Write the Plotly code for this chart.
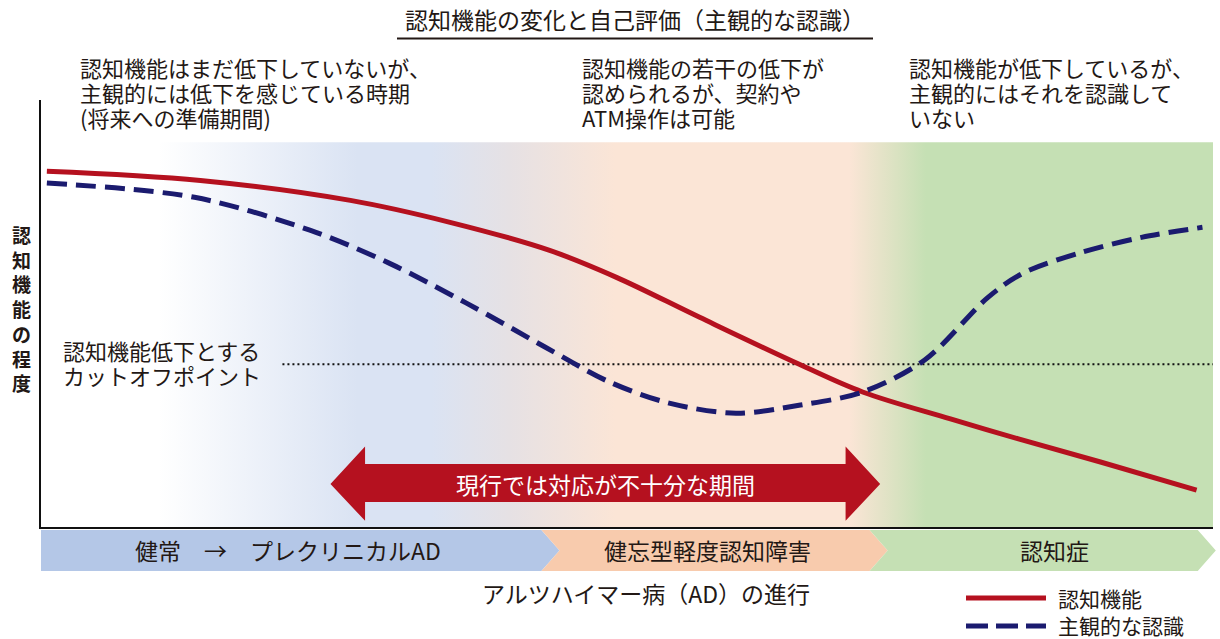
import plotly.graph_objects as go

# ---------------- data ----------------
# x: progression of AD (0-100), y: level of cognitive function (0-100)
cog_x = [0.5, 13.6, 26.4, 34.9, 43.4, 49.1, 56.2, 64.7, 70.1, 77.6, 83.4, 90.4, 98.6]
cog_y = [92.5, 90.1, 84.9, 79.2, 71.9, 64.9, 54.5, 42.3, 35.1, 28.1, 22.9, 16.9, 9.6]

subj_x = [0.5, 13.1, 23.0, 29.7, 36.3, 43.0, 48.5, 53.6, 59.3, 64.8, 70.1, 75.4, 80.8, 83.8, 88.8, 93.9, 99.1]
subj_y = [89.4, 85.7, 77.1, 68.6, 58.2, 46.8, 37.7, 32.2, 29.6, 31.7, 35.1, 43.4, 59.7, 66.0, 71.4, 75.3, 77.9]

cutoff_y = 42.3
cutoff_x = [20.6, 100]

stage_names = ["健常　→　プレクリニカルAD", "健忘型軽度認知障害", "認知症"]
stage_bounds = [0, 42.7, 70.7, 98.7]
stage_label_x = [21.1, 56.9, 86.5]
stage_colors = ["#b4c7e7", "#f8cbad", "#c5e0b4"]

arrow_x = [24.7, 71.6]          # tips of the double arrow
arrow_label = "現行では対応が不十分な期間"

phase_texts = [
    ["認知機能はまだ低下していないが、", "主観的には低下を感じている時期", "(将来への準備期間)"],
    ["認知機能の若干の低下が", "認められるが、契約や", "ATM操作は可能"],
    ["認知機能が低下しているが、", "主観的にはそれを認識して", "いない"],
]

title_text = "認知機能の変化と自己評価（主観的な認識）"
y_title = "認知機能の程度"
x_title = "アルツハイマー病（AD）の進行"
cutoff_label = ["認知機能低下とする", "カットオフポイント"]
series_names = ["認知機能", "主観的な認識"]

# ---------------- styling ----------------
RED = "#b5111f"
NAVY = "#1b1b6f"
TXT = "#231815"
FONT = "Noto Sans CJK JP"

W, H = 1220, 639
ML, MR, MT, MB = 41, 7, 100, 112
PW, PH = W - ML - MR, H - MT - MB
XR = [0, 100]
YR = [0, 111]


def px2p(px):
    return (px - ML) / PW


def py2p(py):
    return (H - MB - py) / PH


def x2p(x):
    return (x - XR[0]) / (XR[1] - XR[0])


def label(x, y, text, size, color=TXT, xanchor="center", xref="paper", yref="paper"):
    return dict(x=x, y=y, xref=xref, yref=yref, xanchor=xanchor, yanchor="middle",
                text=text, showarrow=False, align="center" if xanchor == "center" else "left",
                font=dict(family=FONT, size=size, color=color))


fig = go.Figure()

# gradient background
fig.add_trace(go.Scatter(
    x=[0, 100, 100, 0, 0], y=[0, 0, 100, 100, 0],
    mode="lines", line=dict(width=0), fill="toself",
    fillgradient=dict(
        type="horizontal", start=0, stop=100,
        colorscale=[[0, "#ffffff"], [0.10, "#ffffff"], [0.27, "#dae3f3"],
                    [0.333, "#dae3f3"], [0.40, "#e6e1e4"], [0.49, "#fbe5d6"],
                    [0.69, "#fbe5d6"], [0.755, "#c5e0b4"], [1, "#c5e0b4"]]),
    hoverinfo="skip", showlegend=False))

# cutoff line
fig.add_trace(go.Scatter(
    x=cutoff_x, y=[cutoff_y, cutoff_y], mode="lines",
    line=dict(color="#111111", width=2, dash="2px,3px"),
    hoverinfo="skip", showlegend=False))

# curves
fig.add_trace(go.Scatter(
    x=cog_x, y=cog_y, mode="lines", name=series_names[0],
    line=dict(color=RED, width=5, shape="spline", smoothing=1.0),
    showlegend=False))
fig.add_trace(go.Scatter(
    x=subj_x, y=subj_y, mode="lines", name=series_names[1],
    line=dict(color=NAVY, width=5, shape="spline", smoothing=0.9, dash="20px,9px"),
    showlegend=False))

shapes = []
annotations = []

# double arrow (data coords)
xl, xr = arrow_x
head = 2.95
ay_c, ay_bt, ay_bb, ay_ht, ay_hb = 11.2, 16.4, 6.5, 20.9, 1.6
path = (f"M{xl},{ay_c} L{xl+head},{ay_ht} L{xl+head},{ay_bt} L{xr-head},{ay_bt} "
        f"L{xr-head},{ay_ht} L{xr},{ay_c} L{xr-head},{ay_hb} L{xr-head},{ay_bb} "
        f"L{xl+head},{ay_bb} L{xl+head},{ay_hb} Z")
shapes.append(dict(type="path", path=path, xref="x", yref="y",
                   fillcolor=RED, line=dict(width=0), layer="above"))
annotations.append(label((xl + xr) / 2, ay_c, arrow_label, 23, color="white",
                         xref="x", yref="y"))

# stage chevron bands (paper coords below the plot)
tip = 1.54
btop, bbot = py2p(530), py2p(571)
bmid = (btop + bbot) / 2
for i, (nm, col) in enumerate(zip(stage_names, stage_colors)):
    a, b = stage_bounds[i], stage_bounds[i + 1]
    pts = [(x2p(a), btop), (x2p(b), btop), (x2p(b + tip), bmid), (x2p(b), bbot), (x2p(a), bbot)]
    if i > 0:
        pts.append((x2p(a + tip), bmid))
    p = "M" + " L".join(f"{u:.5f},{v:.5f}" for u, v in pts) + " Z"
    shapes.append(dict(type="path", path=p, xref="paper", yref="paper",
                       fillcolor=col, line=dict(width=0), layer="above"))
    annotations.append(label(x2p(stage_label_x[i]), py2p(550), nm, 23))

# title and underline
annotations.append(label(px2p(635), py2p(19), title_text, 23))
shapes.append(dict(type="line", xref="paper", yref="paper",
                   x0=px2p(397), x1=px2p(873), y0=py2p(38.5), y1=py2p(38.5),
                   line=dict(color=TXT, width=2)))

# phase descriptions
phase_x = [78, 580, 907]
line_y = [67, 92, 117]
for px0, lines in zip(phase_x, phase_texts):
    for t, yy in zip(lines, line_y):
        annotations.append(label(px2p(px0), py2p(yy), t, 22, xanchor="left"))

# y-axis title (stacked vertical characters)
annotations.append(label(px2p(21), py2p(308),
                         "<b>" + "</b><br><b>".join(list(y_title)) + "</b>", 19))

# cutoff label
for t, yy in zip(cutoff_label, [350, 375]):
    annotations.append(label(px2p(61), py2p(yy), t, 22, xanchor="left"))

# x-axis title
annotations.append(label(px2p(646), py2p(593), x_title, 23))

# manual legend
shapes.append(dict(type="line", xref="paper", yref="paper",
                   x0=px2p(966), x1=px2p(1046), y0=py2p(598), y1=py2p(598),
                   line=dict(color=RED, width=5)))
shapes.append(dict(type="line", xref="paper", yref="paper",
                   x0=px2p(966), x1=px2p(1046), y0=py2p(626), y1=py2p(626),
                   line=dict(color=NAVY, width=5, dash="22px,8px")))
for t, yy in zip(series_names, [598, 625]):
    annotations.append(label(px2p(1056), py2p(yy), t, 21, xanchor="left"))

fig.update_layout(
    width=W, height=H,
    margin=dict(l=ML, r=MR, t=MT, b=MB, pad=0),
    paper_bgcolor="white", plot_bgcolor="white",
    showlegend=False,
    xaxis=dict(range=XR, showgrid=False, zeroline=False, showticklabels=False,
               ticks="", showline=True, linecolor="#111111", linewidth=2, fixedrange=True),
    yaxis=dict(range=YR, showgrid=False, zeroline=False, showticklabels=False,
               ticks="", showline=True, linecolor="#111111", linewidth=2, fixedrange=True),
    shapes=shapes, annotations=annotations,
    font=dict(family=FONT, color=TXT),
)

fig.write_html("out.html", config={"displayModeBar": False})
